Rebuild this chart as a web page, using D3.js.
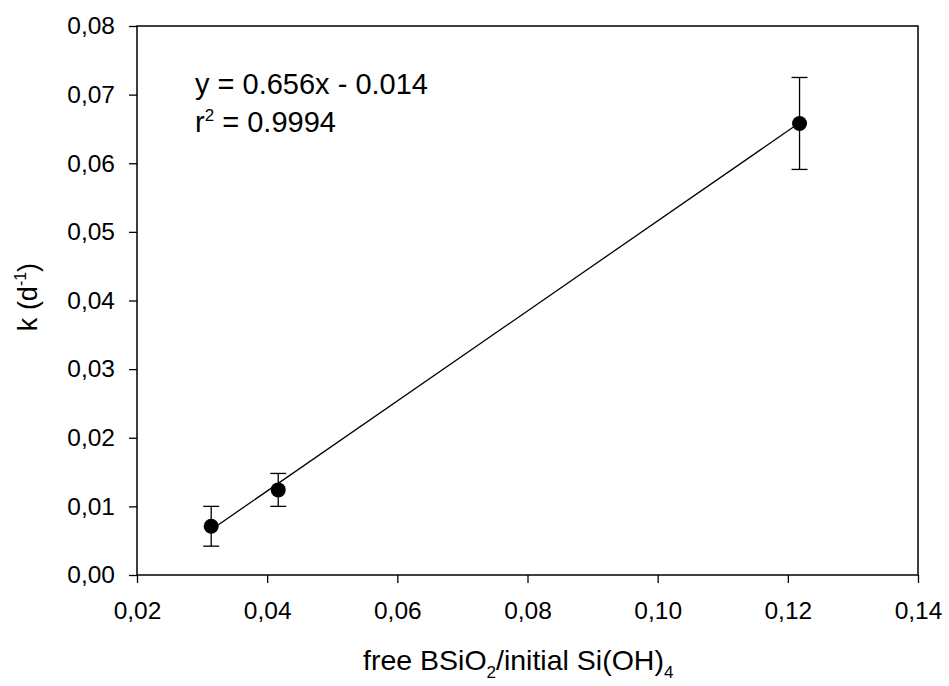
<!DOCTYPE html>
<html>
<head>
<meta charset="utf-8">
<script src="https://cdn.jsdelivr.net/npm/d3@7"></script>
<style>
  body { margin: 0; background: #fff; }
  text { font-family: "Liberation Sans", Arial, sans-serif; fill: #000; }
</style>
</head>
<body>
<svg id="chart"></svg>
<script>
(function () {
    const xVals = [0.0314, 0.0417, 0.1218];
    const kVals = [0.0071, 0.0124, 0.0658];
    const kErr = [0.0029, 0.0024, 0.0067];
    const xTicks = [0.02, 0.04, 0.06, 0.08, 0.10, 0.12, 0.14];
    const yTicks = [0, 0.01, 0.02, 0.03, 0.04, 0.05, 0.06, 0.07, 0.08];
    const slope = 0.656;
    const intercept = -0.014;

    const width = 949;
    const height = 686;
    const margin = { left: 137, right: 31, top: 26, bottom: 111 };

    const xScale = d3.scaleLinear()
        .domain([0.02, 0.14])
        .range([margin.left, width - margin.right]);

    const yScale = d3.scaleLinear()
        .domain([0, 0.08])
        .range([height - margin.bottom, margin.top]);

    const fmt = d => d3.format('.2f')(d).replace('.', ',');

    const svg = d3.select('#chart')
        .attr('width', width)
        .attr('height', height);

    // frame
    svg.append('rect')
        .attr('x', xScale(0.02))
        .attr('y', yScale(0.08))
        .attr('width', xScale(0.14) - xScale(0.02))
        .attr('height', yScale(0) - yScale(0.08))
        .attr('fill', 'none')
        .attr('stroke', '#000')
        .attr('stroke-width', 1.5);

    const xAxis = svg.append('g')
        .attr('transform', `translate(0,${yScale(0)})`)
        .call(d3.axisBottom(xScale).tickValues(xTicks).tickFormat(fmt).tickSize(8).tickPadding(19));

    const yAxis = svg.append('g')
        .attr('transform', `translate(${xScale(0.02)},0)`)
        .call(d3.axisLeft(yScale).tickValues(yTicks).tickFormat(fmt).tickSize(8).tickPadding(14));

    [xAxis, yAxis].forEach(g => {
        g.select('.domain').remove();
        g.selectAll('line').attr('stroke', '#000').attr('stroke-width', 1.3);
        g.selectAll('text')
            .style('font-family', '"Liberation Sans", Arial, sans-serif')
            .style('font-size', '24.5px')
            .attr('fill', '#000');
    });

    // regression line
    const xMin = d3.min(xVals), xMax = d3.max(xVals);
    svg.append('line')
        .attr('x1', xScale(xMin))
        .attr('y1', yScale(slope * xMin + intercept))
        .attr('x2', xScale(xMax))
        .attr('y2', yScale(slope * xMax + intercept))
        .attr('stroke', '#000')
        .attr('stroke-width', 1.3);

    const pts = xVals.map((x, i) => ({ x, y: kVals[i], e: kErr[i] }));

    // error bars
    const eb = svg.append('g').attr('stroke', '#000').attr('stroke-width', 1.3);
    eb.selectAll('.stem').data(pts).join('line')
        .attr('x1', d => xScale(d.x)).attr('x2', d => xScale(d.x))
        .attr('y1', d => yScale(d.y - d.e)).attr('y2', d => yScale(d.y + d.e));
    eb.selectAll('.capt').data(pts).join('line')
        .attr('x1', d => xScale(d.x) - 8).attr('x2', d => xScale(d.x) + 8)
        .attr('y1', d => yScale(d.y + d.e)).attr('y2', d => yScale(d.y + d.e));
    eb.selectAll('.capb').data(pts).join('line')
        .attr('x1', d => xScale(d.x) - 8).attr('x2', d => xScale(d.x) + 8)
        .attr('y1', d => yScale(d.y - d.e)).attr('y2', d => yScale(d.y - d.e));

    svg.selectAll('circle').data(pts).join('circle')
        .attr('cx', d => xScale(d.x))
        .attr('cy', d => yScale(d.y))
        .attr('r', 7.5)
        .attr('fill', '#000');

    // equation
    svg.append('text')
        .attr('x', 195).attr('y', 93.5)
        .style('font-size', '29px')
        .text(`y = ${slope}x - ${Math.abs(intercept)}`);
    const r2 = svg.append('text')
        .attr('x', 195).attr('y', 131.5)
        .style('font-size', '29px');
    r2.append('tspan').text('r');
    r2.append('tspan').attr('dy', -11).style('font-size', '17px').text('2');
    r2.append('tspan').attr('dy', 11).text(' = 0.9994');

    // x title
    const xt = svg.append('text')
        .attr('x', 363)
        .attr('y', 670)
        .style('font-size', '28.5px');
    xt.append('tspan').text('free BSiO');
    xt.append('tspan').attr('dy', 8).style('font-size', '17px').text('2');
    xt.append('tspan').attr('dy', -8).text('/initial Si(OH)');
    xt.append('tspan').attr('dy', 8).style('font-size', '17px').text('4');

    // y title
    const yt = svg.append('text')
        .attr('transform', 'translate(37,297) rotate(-90)')
        .attr('text-anchor', 'middle')
        .style('font-size', '27px');
    yt.append('tspan').text('k (d');
    yt.append('tspan').attr('dy', -11).style('font-size', '16px').text('-1');
    yt.append('tspan').attr('dy', 11).text(')');
})();
</script>
</body>
</html>
